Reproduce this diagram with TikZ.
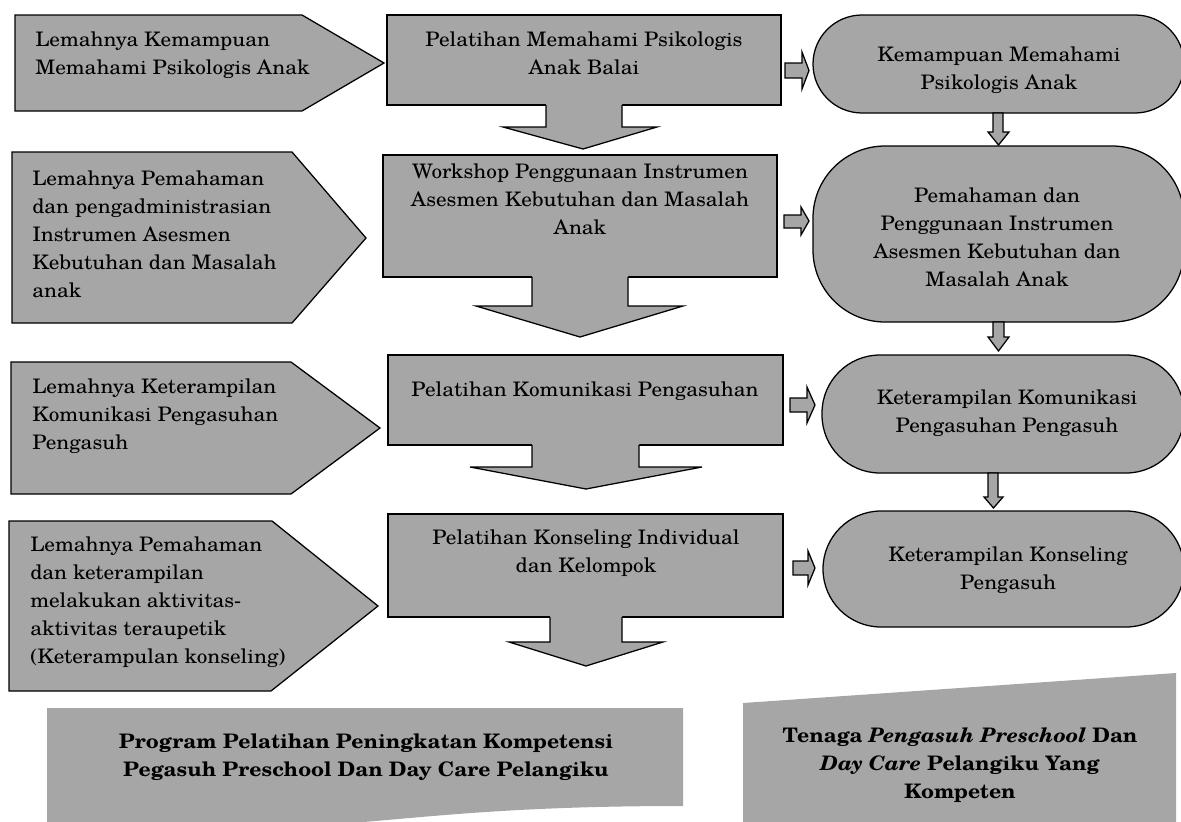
\documentclass[tikz,border=0pt]{standalone}
\usepackage{fontspec}
\setmainfont{TeX Gyre Schola}[FakeStretch=1.06]
\definecolor{boxgray}{HTML}{A6A6A6}
\begin{document}
\begin{tikzpicture}[x=0.75pt,y=-0.75pt,
  ln/.style={draw=black,line width=0.95pt,line join=miter},
  shp/.style={ln,fill=boxgray},
  txt/.style={inner sep=0pt,font=\fontsize{15}{21}\selectfont},
  ltxt/.style={txt,align=left,anchor=north west},
  ctxt/.style={txt,align=center,anchor=north},
  btxt/.style={txt,align=center,anchor=north,font=\fontsize{15}{21}\selectfont\bfseries}]
\useasboundingbox (0,0) rectangle (1181,821);

% left pentagons
\path[shp] (15,15) -- (302,15) -- (384,63) -- (302,111) -- (15,111) -- cycle;
\path[shp] (12,152) -- (292,152) -- (366,238) -- (292,323) -- (12,323) -- cycle;
\path[shp] (11,362) -- (291,362) -- (380,428) -- (291,494) -- (11,494) -- cycle;
\path[shp] (9,521) -- (272,521) -- (378,606) -- (271,691) -- (9,691) -- cycle;

\node[ltxt] (l1) at (35,31) {Lemahnya Kemampuan\\Memahami Psikologis Anak};
\node[ltxt] (l2) at (32,170) {Lemahnya Pemahaman\\dan pengadministrasian\\Instrumen Asesmen\\Kebutuhan dan Masalah\\anak};
\node[ltxt] (l3) at (32,378) {Lemahnya Keterampilan\\Komunikasi Pengasuhan\\Pengasuh};
\node[ltxt] (l4) at (30,536) {Lemahnya Pemahaman\\dan keterampilan\\melakukan aktivitas-\\aktivitas teraupetik\\(Keterampulan konseling)};

% middle boxes with down arrows
\path[shp] (387,15) rectangle (781,105);
\fill[boxgray] (546,103) -- (546,127) -- (503,127) -- (583,149) -- (657,127) -- (622,127) -- (622,103) -- cycle;
\draw[ln] (546,105) -- (546,127) -- (503,127) -- (583,149) -- (657,127) -- (622,127) -- (622,105);

\path[shp] (383,155) rectangle (777,277);
\fill[boxgray] (532,275) -- (532,306) -- (476,306) -- (580,337) -- (683,306) -- (628,306) -- (628,275) -- cycle;
\draw[ln] (532,277) -- (532,306) -- (476,306) -- (580,337) -- (683,306) -- (628,306) -- (628,277);

\path[shp] (388,355) rectangle (783,445);
\fill[boxgray] (532,443) -- (532,467) -- (470,467) -- (586,489) -- (702,467) -- (639,467) -- (639,443) -- cycle;
\draw[ln] (532,445) -- (532,467) -- (470,467) -- (586,489) -- (702,467) -- (639,467) -- (639,445);

\path[shp] (388,514) rectangle (783,617);
\fill[boxgray] (550,615) -- (550,642) -- (509,642) -- (586,666) -- (663,642) -- (622,642) -- (622,615) -- cycle;
\draw[ln] (550,617) -- (550,642) -- (509,642) -- (586,666) -- (663,642) -- (622,642) -- (622,617);

\node[ctxt] (m1) at (584,31) {Pelatihan Memahami Psikologis\\Anak Balai};
\node[ctxt] (m2) at (580,163) {Workshop Penggunaan Instrumen\\Asesmen Kebutuhan dan Masalah\\Anak};
\node[ctxt] (m3) at (585,381) {Pelatihan Komunikasi Pengasuhan};
\node[ctxt] (m4) at (586,529) {Pelatihan Konseling Individual\\dan Kelompok};

% right rounded shapes
\path[shp,rounded corners=36.75pt] (813,15) rectangle (1184,113);
\path[shp,rounded corners=54pt] (813,146) rectangle (1184,322);
\path[shp,rounded corners=43.5pt] (822,355) rectangle (1184,473);
\path[shp,rounded corners=43.5pt] (823,511) rectangle (1184,627);

\node[ctxt] (r1) at (999,46) {Kemampuan Memahami\\Psikologis Anak};
\node[ctxt] (r2) at (997,187) {Pemahaman dan\\Penggunaan Instrumen\\Asesmen Kebutuhan dan\\Masalah Anak};
\node[ctxt] (r3) at (1007,389) {Keterampilan Komunikasi\\Pengasuhan Pengasuh};
\node[ctxt] (r4) at (1008,546) {Keterampilan Konseling\\Pengasuh};

% small right block arrows
\path[shp] (785,63) -- (802,63) -- (802,52) -- (809,70.5) -- (802,89) -- (802,78) -- (785,78) -- cycle;
\path[shp] (784,215) -- (801,215) -- (801,207) -- (809,221) -- (801,235) -- (801,228) -- (784,228) -- cycle;
\path[shp] (790,398) -- (807,398) -- (807,387) -- (815,405) -- (807,423) -- (807,412) -- (790,412) -- cycle;
\path[shp] (793,561) -- (808,561) -- (808,551) -- (815,568) -- (808,585) -- (808,575) -- (793,575) -- cycle;

% small down block arrows
\path[shp] (993,113) -- (1003,113) -- (1003,132) -- (1009,132) -- (998.5,145) -- (988,132) -- (993,132) -- cycle;
\path[shp] (993,322) -- (1004,322) -- (1004,337) -- (1009,337) -- (998.5,351) -- (988,337) -- (993,337) -- cycle;
\path[shp] (988,473) -- (998,473) -- (998,497) -- (1003,497) -- (993.5,508) -- (984,497) -- (988,497) -- cycle;

% bottom shapes
\fill[boxgray] (47,708) -- (683,708) -- (683,806) .. controls (365,806) and (365,843) .. (47,822) -- cycle;
\fill[boxgray] (743,703) -- (1176,673) -- (1176,830) -- (743,830) -- cycle;

\node[btxt] (b1) at (366,733) {Program Pelatihan Peningkatan Kompetensi\\Pegasuh Preschool Dan Day Care Pelangiku};
\node[btxt] (b2) at (960,728) {Tenaga \textit{Pengasuh Preschool} Dan\\\textit{Day Care} Pelangiku Yang\\Kompeten};
\end{tikzpicture}
\end{document}
